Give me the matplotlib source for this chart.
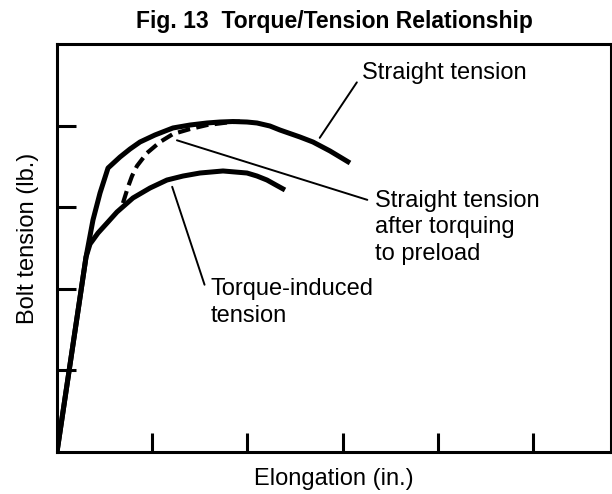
import matplotlib
matplotlib.use("Agg")
import matplotlib.pyplot as plt

plt.rcParams['font.family'] = ['Liberation Sans', 'DejaVu Sans']

# curve samples (elongation, tension) in arbitrary units
straight_x = [0, 0.305, 0.378, 0.452, 0.536, 0.662, 0.767, 0.872, 1.029, 1.218, 1.397,
              1.576, 1.712, 1.849, 1.996, 2.101, 2.237, 2.342, 2.553, 2.689, 2.868, 3.078]
straight_y = [0, 2.390, 2.843, 3.174, 3.480, 3.615, 3.713, 3.799, 3.885, 3.971, 4.007,
              4.032, 4.044, 4.050, 4.044, 4.032, 3.995, 3.946, 3.860, 3.799, 3.689, 3.542]

torque_x = [0, 0.305, 0.347, 0.431, 0.536, 0.630, 0.798, 0.977, 1.155, 1.324, 1.502,
            1.744, 1.996, 2.101, 2.206, 2.300, 2.395]
torque_y = [0, 2.390, 2.549, 2.684, 2.819, 2.941, 3.113, 3.235, 3.333, 3.382, 3.419,
            3.444, 3.419, 3.382, 3.333, 3.272, 3.211]

preload_x = [0.693, 0.746, 0.788, 0.840, 0.945, 1.082, 1.218, 1.397, 1.576, 1.786, 1.922]
preload_y = [3.051, 3.248, 3.382, 3.505, 3.664, 3.799, 3.897, 3.958, 4.007, 4.038, 4.050]

x_ticks = [1, 2, 3, 4, 5]
y_ticks = [1, 2, 3, 4]

fig = plt.figure(figsize=(6.12, 4.94), dpi=100)
ax = fig.add_axes([57 / 612, 42 / 494, 554 / 612, 408 / 494])

lw = 3.6
ax.plot(straight_x, straight_y, color='black', lw=lw, solid_joinstyle='round', solid_capstyle='butt')
ax.plot(torque_x, torque_y, color='black', lw=lw, solid_joinstyle='round', solid_capstyle='butt')
ax.plot(preload_x, preload_y, color='black', lw=3.0, dashes=(3.0, 1.5))

ax.set_xlim(0, 5.82)
ax.set_ylim(0, 5)
ax.set_xticks(x_ticks)
ax.set_yticks(y_ticks)
ax.tick_params(direction='in', length=14, width=2.2, labelbottom=False, labelleft=False)
for s in ax.spines.values():
    s.set_linewidth(2.2)

leader = dict(arrowstyle='-', color='black', lw=1.4, shrinkA=0, shrinkB=0)
fs = 17
ax.annotate('', xy=(2.76, 3.85), xytext=(3.15, 4.53), arrowprops=leader)
ax.text(3.20, 4.65, 'Straight tension', fontsize=fs, va='center', ha='left')

ax.annotate('', xy=(1.26, 3.82), xytext=(3.26, 3.09), arrowprops=leader)
ax.text(3.34, 3.21, 'Straight tension\nafter torquing\nto preload', fontsize=fs,
        va='top', ha='left', linespacing=1.26)

ax.annotate('', xy=(1.21, 3.25), xytext=(1.55, 2.05), arrowprops=leader)
ax.text(1.61, 2.13, 'Torque-induced\ntension', fontsize=fs, va='top', ha='left', linespacing=1.26)

fig.text(334 / 612, (494 - 28) / 494, 'Fig. 13  Torque/Tension Relationship',
         fontsize=16.5, fontweight='bold', ha='center', va='baseline')
fig.text(334 / 612, (494 - 485) / 494, 'Elongation (in.)', fontsize=fs, ha='center', va='baseline')
fig.text(28 / 612, (494 - 238) / 494, 'Bolt tension (lb.)', fontsize=fs, rotation=90,
         ha='center', va='center')

fig.savefig('out.png', dpi=100)
